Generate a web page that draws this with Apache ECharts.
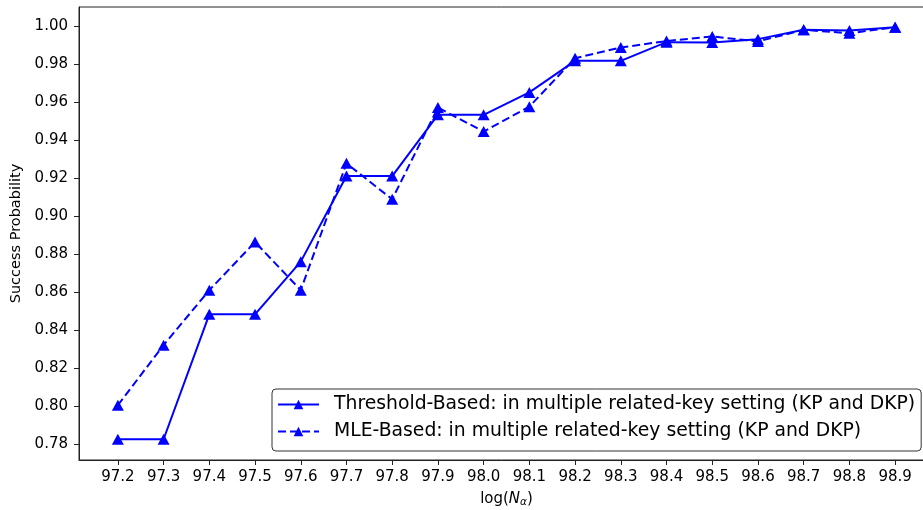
<!DOCTYPE html>
<html>
<head>
<meta charset="utf-8">
<script src="https://cdn.jsdelivr.net/npm/echarts@6/dist/echarts.min.js"></script>
<style>
  html, body { margin: 0; padding: 0; background: #fff; }
  #chart { width: 923px; height: 510px; }
</style>
</head>
<body>
<div id="chart"></div>
<script>
// log(N_alpha) sample points
const logN = [97.2, 97.3, 97.4, 97.5, 97.6, 97.7, 97.8, 97.9, 98.0,
              98.1, 98.2, 98.3, 98.4, 98.5, 98.6, 98.7, 98.8, 98.9];

// Success probability, threshold-based attack
const thresholdBased = [0.7826, 0.7826, 0.8483, 0.8483, 0.8760, 0.9210, 0.9210, 0.9532, 0.9532,
                        0.9650, 0.9816, 0.9816, 0.9914, 0.9912, 0.9930, 0.9979, 0.9975, 0.9993];

// Success probability, MLE-based attack
const mleBased = [0.8005, 0.8321, 0.8610, 0.8863, 0.8610, 0.9277, 0.9088, 0.9570, 0.9444,
                  0.9575, 0.9830, 0.9886, 0.9920, 0.9944, 0.9918, 0.9979, 0.9961, 0.9993];

// Axis tick positions
const xTicks = [97.2, 97.3, 97.4, 97.5, 97.6, 97.7, 97.8, 97.9, 98.0,
                98.1, 98.2, 98.3, 98.4, 98.5, 98.6, 98.7, 98.8, 98.9];
const yTicks = [0.78, 0.80, 0.82, 0.84, 0.86, 0.88, 0.90, 0.92, 0.94, 0.96, 0.98, 1.00];

const seriesNames = [
  'Threshold-Based: in multiple related-key setting (KP and DKP)',
  'MLE-Based: in multiple related-key setting (KP and DKP)'
];

const FONT = 'DejaVu Sans';
const BLUE = '#0000ff';

const pairs = (ys) => logN.map((x, i) => [x, ys[i]]);

const chart = echarts.init(document.getElementById('chart'), null, { renderer: 'canvas' });

chart.setOption({
  animation: false,
  backgroundColor: '#ffffff',
  textStyle: { fontFamily: FONT },
  // plot area runs slightly past the right edge of the canvas
  grid: {
    left: 79, top: 7, width: 855, height: 453,
    containLabel: false,
    outerBoundsMode: 'none',
    show: true, borderColor: '#222', borderWidth: 1, backgroundColor: 'transparent'
  },
  xAxis: {
    type: 'value',
    min: 97.115, max: 98.985,
    name: '{n|log(}{i|N}{s|α}{n|)}',
    nameLocation: 'middle',
    nameGap: 30,
    nameTextStyle: {
      rich: {
        n: { fontFamily: FONT, fontSize: 15, color: '#000' },
        i: { fontFamily: FONT, fontSize: 15, fontStyle: 'italic', color: '#000' },
        s: { fontFamily: FONT, fontSize: 10.5, fontStyle: 'italic', color: '#000', padding: [7, 0, 0, 0] }
      }
    },
    splitLine: { show: false },
    axisLine: { show: true, lineStyle: { color: '#222', width: 1 } },
    axisTick: { show: true, inside: false, length: 5, lineStyle: { color: '#222' }, customValues: xTicks },
    axisLabel: {
      customValues: xTicks,
      color: '#000', fontSize: 15, fontFamily: FONT, margin: 10,
      formatter: (v) => v.toFixed(1)
    }
  },
  yAxis: {
    type: 'value',
    min: 0.7717, max: 1.0099,
    name: 'Success Probability',
    nameLocation: 'middle',
    nameGap: 53,
    nameTextStyle: { color: '#000', fontSize: 14.5, fontFamily: FONT },
    splitLine: { show: false },
    axisLine: { show: true, lineStyle: { color: '#222', width: 1 } },
    axisTick: { show: true, inside: false, length: 5, lineStyle: { color: '#222' }, customValues: yTicks },
    axisLabel: {
      customValues: yTicks,
      color: '#000', fontSize: 15, fontFamily: FONT, margin: 11,
      formatter: (v) => v.toFixed(2)
    }
  },
  legend: {
    orient: 'vertical',
    left: 272, top: 389,
    itemWidth: 41, itemHeight: 12,
    itemGap: 8,
    padding: [6, 6, 10, 5],
    borderColor: '#333',
    borderWidth: 1,
    borderRadius: 4,
    backgroundColor: 'rgba(255,255,255,0.8)',
    textStyle: { color: '#000', fontSize: 18.8, fontFamily: FONT, padding: [0, 0, 0, 10] },
    data: seriesNames
  },
  series: [
    {
      name: seriesNames[0],
      type: 'line',
      data: pairs(thresholdBased),
      symbol: 'triangle',
      symbolSize: [12, 11],
      itemStyle: { color: BLUE },
      lineStyle: { color: BLUE, width: 2, type: 'solid' },
      z: 2
    },
    {
      name: seriesNames[1],
      type: 'line',
      data: pairs(mleBased),
      symbol: 'triangle',
      symbolSize: [12, 11],
      itemStyle: { color: BLUE },
      lineStyle: { color: BLUE, width: 2, type: [8, 4] },
      z: 3
    }
  ]
});
</script>
</body>
</html>
